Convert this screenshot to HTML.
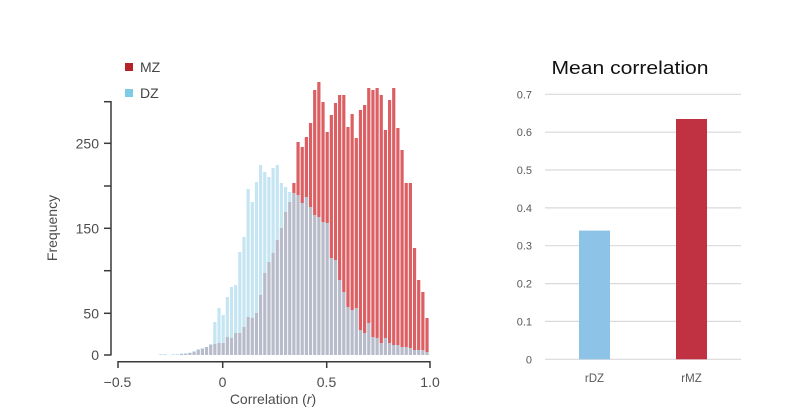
<!DOCTYPE html>
<html><head><meta charset="utf-8"><style>
html,body{margin:0;padding:0;background:#fff;}
svg{display:block;}
.g{fill:#b7bbca}.b{fill:#c5e5f3}.r{fill:#db5f63}
text{font-family:"Liberation Sans",Arial,sans-serif;}
</style></head><body>
<svg width="807" height="414" viewBox="0 0 807 414" xmlns="http://www.w3.org/2000/svg">
<rect width="807" height="414" fill="#fff"/>
<g transform="translate(221.58,355) scale(1,-1)">
<rect class="b" x="-62.4" y="0" width="3.2" height="1"/>
<rect class="b" x="-58.24" y="0" width="3.2" height="1"/>
<rect class="b" x="-49.92" y="0" width="3.2" height="1"/>
<rect class="b" x="-45.76" y="0" width="3.2" height="1"/>
<rect class="g" x="-41.6" y="0" width="3.2" height="1"/><rect class="b" x="-41.6" y="1" width="3.2" height="0.5"/>
<rect class="g" x="-37.44" y="0" width="3.2" height="1"/><rect class="b" x="-37.44" y="1" width="3.2" height="1"/>
<rect class="g" x="-33.28" y="0" width="3.2" height="2"/><rect class="b" x="-33.28" y="2" width="3.2" height="0.5"/>
<rect class="g" x="-29.12" y="0" width="3.2" height="3"/><rect class="b" x="-29.12" y="3" width="3.2" height="1"/>
<rect class="g" x="-24.96" y="0" width="3.2" height="5"/><rect class="b" x="-24.96" y="5" width="3.2" height="1"/>
<rect class="g" x="-20.8" y="0" width="3.2" height="6"/><rect class="b" x="-20.8" y="6" width="3.2" height="1"/>
<rect class="g" x="-16.64" y="0" width="3.2" height="8"/>
<rect class="g" x="-12.48" y="0" width="3.2" height="10"/><rect class="b" x="-12.48" y="10" width="3.2" height="1"/>
<rect class="g" x="-8.32" y="0" width="3.2" height="11"/><rect class="b" x="-8.32" y="11" width="3.2" height="22"/>
<rect class="g" x="-4.16" y="0" width="3.2" height="12"/><rect class="b" x="-4.16" y="12" width="3.2" height="35"/>
<rect class="g" x="0" y="0" width="3.2" height="12"/><rect class="b" x="0" y="12" width="3.2" height="28"/>
<rect class="g" x="4.16" y="0" width="3.2" height="18"/><rect class="b" x="4.16" y="18" width="3.2" height="40"/>
<rect class="g" x="8.32" y="0" width="3.2" height="17"/><rect class="b" x="8.32" y="17" width="3.2" height="51"/>
<rect class="g" x="12.48" y="0" width="3.2" height="22"/><rect class="b" x="12.48" y="22" width="3.2" height="48"/>
<rect class="g" x="16.64" y="0" width="3.2" height="22"/><rect class="b" x="16.64" y="22" width="3.2" height="81"/>
<rect class="g" x="20.8" y="0" width="3.2" height="28"/><rect class="b" x="20.8" y="28" width="3.2" height="90"/>
<rect class="g" x="24.96" y="0" width="3.2" height="38"/><rect class="b" x="24.96" y="38" width="3.2" height="128"/>
<rect class="g" x="29.12" y="0" width="3.2" height="37"/><rect class="b" x="29.12" y="37" width="3.2" height="116"/>
<rect class="g" x="33.28" y="0" width="3.2" height="42"/><rect class="b" x="33.28" y="42" width="3.2" height="131"/>
<rect class="g" x="37.44" y="0" width="3.2" height="60"/><rect class="b" x="37.44" y="60" width="3.2" height="130"/>
<rect class="g" x="41.6" y="0" width="3.2" height="82"/><rect class="b" x="41.6" y="82" width="3.2" height="101"/>
<rect class="g" x="45.76" y="0" width="3.2" height="93"/><rect class="b" x="45.76" y="93" width="3.2" height="85"/>
<rect class="g" x="49.92" y="0" width="3.2" height="102"/><rect class="b" x="49.92" y="102" width="3.2" height="85"/>
<rect class="g" x="54.08" y="0" width="3.2" height="115"/><rect class="b" x="54.08" y="115" width="3.2" height="75"/>
<rect class="g" x="58.24" y="0" width="3.2" height="127"/><rect class="b" x="58.24" y="127" width="3.2" height="45"/>
<rect class="g" x="62.4" y="0" width="3.2" height="143"/><rect class="b" x="62.4" y="143" width="3.2" height="25"/>
<rect class="g" x="66.56" y="0" width="3.2" height="153"/><rect class="b" x="66.56" y="153" width="3.2" height="10"/>
<rect class="g" x="70.72" y="0" width="3.2" height="162"/><rect class="r" x="70.72" y="162" width="3.2" height="10"/>
<rect class="g" x="74.88" y="0" width="3.2" height="160"/><rect class="r" x="74.88" y="160" width="3.2" height="53"/>
<rect class="g" x="79.04" y="0" width="3.2" height="152"/><rect class="r" x="79.04" y="152" width="3.2" height="56"/>
<rect class="g" x="83.2" y="0" width="3.2" height="158"/><rect class="r" x="83.2" y="158" width="3.2" height="60"/>
<rect class="g" x="87.36" y="0" width="3.2" height="148"/><rect class="r" x="87.36" y="148" width="3.2" height="84"/>
<rect class="g" x="91.52" y="0" width="3.2" height="140"/><rect class="r" x="91.52" y="140" width="3.2" height="125"/>
<rect class="g" x="95.68" y="0" width="3.2" height="138"/><rect class="r" x="95.68" y="138" width="3.2" height="135"/>
<rect class="g" x="99.84" y="0" width="3.2" height="133"/><rect class="r" x="99.84" y="133" width="3.2" height="120"/>
<rect class="g" x="104" y="0" width="3.2" height="132"/><rect class="r" x="104" y="132" width="3.2" height="91"/>
<rect class="g" x="108.16" y="0" width="3.2" height="97"/><rect class="r" x="108.16" y="97" width="3.2" height="143"/>
<rect class="g" x="112.32" y="0" width="3.2" height="95"/><rect class="r" x="112.32" y="95" width="3.2" height="157"/>
<rect class="g" x="116.48" y="0" width="3.2" height="75"/><rect class="r" x="116.48" y="75" width="3.2" height="185"/>
<rect class="g" x="120.64" y="0" width="3.2" height="63"/><rect class="r" x="120.64" y="63" width="3.2" height="197"/>
<rect class="g" x="124.8" y="0" width="3.2" height="48"/><rect class="r" x="124.8" y="48" width="3.2" height="180"/>
<rect class="g" x="128.96" y="0" width="3.2" height="45"/><rect class="r" x="128.96" y="45" width="3.2" height="196"/>
<rect class="g" x="133.12" y="0" width="3.2" height="47"/><rect class="r" x="133.12" y="47" width="3.2" height="170"/>
<rect class="g" x="137.28" y="0" width="3.2" height="25"/><rect class="r" x="137.28" y="25" width="3.2" height="220"/>
<rect class="g" x="141.44" y="0" width="3.2" height="22"/><rect class="r" x="141.44" y="22" width="3.2" height="228"/>
<rect class="g" x="145.6" y="0" width="3.2" height="32"/><rect class="r" x="145.6" y="32" width="3.2" height="235"/>
<rect class="g" x="149.76" y="0" width="3.2" height="18"/><rect class="r" x="149.76" y="18" width="3.2" height="247"/>
<rect class="g" x="153.92" y="0" width="3.2" height="17"/><rect class="r" x="153.92" y="17" width="3.2" height="250"/>
<rect class="g" x="158.08" y="0" width="3.2" height="12"/><rect class="r" x="158.08" y="12" width="3.2" height="248"/>
<rect class="g" x="162.24" y="0" width="3.2" height="17"/><rect class="r" x="162.24" y="17" width="3.2" height="208"/>
<rect class="g" x="166.4" y="0" width="3.2" height="12"/><rect class="r" x="166.4" y="12" width="3.2" height="243"/>
<rect class="g" x="170.56" y="0" width="3.2" height="10"/><rect class="r" x="170.56" y="10" width="3.2" height="257"/>
<rect class="g" x="174.72" y="0" width="3.2" height="10"/><rect class="r" x="174.72" y="10" width="3.2" height="217"/>
<rect class="g" x="178.88" y="0" width="3.2" height="8"/><rect class="r" x="178.88" y="8" width="3.2" height="197"/>
<rect class="g" x="183.04" y="0" width="3.2" height="8"/><rect class="r" x="183.04" y="8" width="3.2" height="164"/>
<rect class="g" x="187.2" y="0" width="3.2" height="7"/><rect class="r" x="187.2" y="7" width="3.2" height="165"/>
<rect class="g" x="191.36" y="0" width="3.2" height="5"/><rect class="r" x="191.36" y="5" width="3.2" height="102"/>
<rect class="g" x="195.52" y="0" width="3.2" height="5"/><rect class="r" x="195.52" y="5" width="3.2" height="70"/>
<rect class="g" x="199.68" y="0" width="3.2" height="5"/><rect class="r" x="199.68" y="5" width="3.2" height="58"/>
<rect class="g" x="203.84" y="0" width="3.2" height="3"/><rect class="r" x="203.84" y="3" width="3.2" height="34"/>
</g>

<g stroke="#3a3a3a" stroke-width="1.5" fill="none">
<line x1="111" y1="101" x2="111" y2="355.5"/>
<line x1="104" y1="101.7" x2="111" y2="101.7"/>
<line x1="104" y1="143.3" x2="111" y2="143.3"/>
<line x1="104" y1="186" x2="111" y2="186"/>
<line x1="104" y1="228.3" x2="111" y2="228.3"/>
<line x1="104" y1="270.7" x2="111" y2="270.7"/>
<line x1="104" y1="313.3" x2="111" y2="313.3"/>
<line x1="104" y1="355" x2="111" y2="355"/>
<line x1="117.5" y1="361.7" x2="430.5" y2="361.7"/>
<line x1="118" y1="361" x2="118" y2="368"/>
<line x1="222.7" y1="361" x2="222.7" y2="368"/>
<line x1="326.7" y1="361" x2="326.7" y2="368"/>
<line x1="430" y1="361" x2="430" y2="368"/>
</g>
<g fill="#4d4d4d" font-size="14" text-anchor="end">
<text x="99" y="148.3">250</text>
<text x="99" y="233.3">150</text>
<text x="99" y="318.3">50</text>
<text x="99" y="360">0</text>
</g>
<g fill="#4d4d4d" font-size="14" text-anchor="middle">
<text x="117.5" y="387">−0.5</text>
<text x="222.5" y="387">0</text>
<text x="326.5" y="387">0.5</text>
<text x="430" y="387">1.0</text>
<text x="273" y="404">Correlation (<tspan font-style="italic">r</tspan>)</text>
<text x="0" y="0" transform="translate(57,228) rotate(-90)">Frequency</text>
</g>
<rect x="125" y="63" width="8" height="8" fill="#b5232a"/>
<text x="140" y="72" fill="#444" font-size="14">MZ</text>
<rect x="125" y="89" width="8" height="8" fill="#7ecbe6"/>
<text x="140" y="98" fill="#444" font-size="14">DZ</text>

<text x="551.5" y="74" font-size="18" fill="#111" textLength="157" lengthAdjust="spacingAndGlyphs">Mean correlation</text>
<g stroke="#d9d9d9" stroke-width="1.2">
<line x1="545" y1="94.3" x2="741" y2="94.3"/>
<line x1="545" y1="132.2" x2="741" y2="132.2"/>
<line x1="545" y1="170" x2="741" y2="170"/>
<line x1="545" y1="207.9" x2="741" y2="207.9"/>
<line x1="545" y1="245.7" x2="741" y2="245.7"/>
<line x1="545" y1="283.6" x2="741" y2="283.6"/>
<line x1="545" y1="321.4" x2="741" y2="321.4"/>
<line x1="545" y1="359.3" x2="741" y2="359.3"/>
</g>
<rect x="579" y="230.6" width="31" height="128.7" fill="#8cc3e6"/>
<rect x="676" y="119" width="31" height="240.3" fill="#c03142"/>
<g fill="#595959" font-size="11" text-anchor="end">
<text x="532" y="98.3">0.7</text>
<text x="532" y="136.2">0.6</text>
<text x="532" y="174">0.5</text>
<text x="532" y="211.9">0.4</text>
<text x="532" y="249.7">0.3</text>
<text x="532" y="287.6">0.2</text>
<text x="532" y="325.4">0.1</text>
<text x="532" y="363.3">0</text>
</g>
<g fill="#595959" font-size="11.5" text-anchor="middle">
<text x="594.5" y="382">rDZ</text>
<text x="691.5" y="382">rMZ</text>
</g>
</svg>
</body></html>
